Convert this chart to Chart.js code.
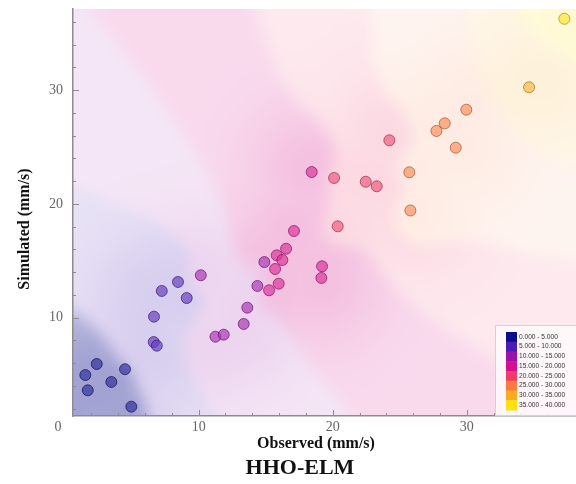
<!DOCTYPE html>
<html><head><meta charset="utf-8">
<script src="https://cdn.jsdelivr.net/npm/chart.js@4/dist/chart.umd.min.js"></script>
<style>html,body{margin:0;padding:0;background:#fff}#wrap{width:576px;height:484px;position:relative}</style>
</head><body><div id="wrap"><canvas id="c" width="576" height="484"></canvas></div>
<script>
const observed = [1.55,2.40,1.73,3.49,4.51,4.98,6.67,6.65,6.88,7.25,8.46,9.11,10.16,11.25,11.87,13.36,13.63,14.38,14.90,15.25,15.70,15.97,15.82,16.24,16.52,17.11,18.43,19.15,19.20,20.10,20.37,22.46,23.28,24.22,25.71,25.79,27.73,28.35,29.17,29.96,34.64,37.27];
const simulated = [4.96,5.93,3.62,4.35,5.47,2.18,10.09,7.86,7.54,12.35,13.14,11.73,13.73,8.33,8.51,9.45,10.88,12.79,14.89,12.41,14.28,12.99,15.48,15.07,16.06,17.62,22.80,13.49,14.52,22.28,18.03,21.95,21.55,25.59,22.78,19.42,26.41,27.08,24.94,28.28,30.25,36.27];
const classLabels = ['0.000 - 5.000','5.000 - 10.000','10.000 - 15.000','15.000 - 20.000','20.000 - 25.000','25.000 - 30.000','30.000 - 35.000','35.000 - 40.000'];
const classColors = ['#0c0c8c','#4a1cb4','#9a12a8','#d6108a','#f03a68','#f87c40','#fbab22','#fde012'];
const majorTicks = [10,20,30];
const minorTicks = [2,4,6,8,12,14,16,18,22,24,26,28,32,34,36];
const xTitle = 'Observed (mm/s)';
const yTitle = 'Simulated (mm/s)';
const chartTitle = 'HHO-ELM';

function hex(c){return [parseInt(c.slice(1,3),16),parseInt(c.slice(3,5),16),parseInt(c.slice(5,7),16)];}
const stops = classColors.map(hex);
const cls = v => Math.max(0, Math.min(stops.length-1, Math.floor(v/5)));
const rgba=(c,a)=>`rgba(${Math.round(c[0])},${Math.round(c[1])},${Math.round(c[2])},${a})`;

const pts = observed.map((x,i)=>({x, y: simulated[i]}));
const fills = observed.map(v=>{const c=stops[cls(v)];return rgba(c.map(a=>a*0.85+255*0.15),0.68);});
const borders = observed.map(v=>{const c=stops[cls(v)];return rgba(c.map(a=>a*0.6),0.65);});

const bgPlugin = {
  id:'bg',
  beforeDraw(chart){
    const {ctx, chartArea:a, scales} = chart;
    const step=3;
    const w=Math.ceil((a.right-a.left)/step), h=Math.ceil((a.bottom-a.top)/step);
    const off=document.createElement('canvas'); off.width=w; off.height=h;
    const octx=off.getContext('2d'); const img=octx.createImageData(w,h);
    const px=pts.map(p=>[scales.x.getPixelForValue(p.x),scales.y.getPixelForValue(p.y),p.x]);
    for(let j=0;j<h;j++){
      for(let i=0;i<w;i++){
        const X=a.left+i*step+step/2, Y=a.top+j*step+step/2;
        let sw=0, sv=0, dmin=1e9;
        for(const p of px){
          const d2=(p[0]-X)**2+(p[1]-Y)**2+25;
          const wt=1/(d2*d2);
          sw+=wt; sv+=wt*p[2];
          if(d2<dmin) dmin=d2;
        }
        const v=sv/sw;
        const ci=cls(v);
        const c=stops[ci];
        const near=Math.exp(-dmin/(60*60));
        const al=[0.32,0.18,0.15,0.22,0.16,0.12,0.14,0.16][ci]*(0.7+0.5*near);
        const k=(j*w+i)*4;
        img.data[k]=255*(1-al)+c[0]*al;
        img.data[k+1]=255*(1-al)+c[1]*al;
        img.data[k+2]=255*(1-al)+c[2]*al;
        img.data[k+3]=255;
      }
    }
    octx.putImageData(img,0,0);
    ctx.save();
    ctx.fillStyle='#fff'; ctx.fillRect(a.left,a.top,a.right-a.left,a.bottom-a.top);
    ctx.beginPath(); ctx.rect(a.left,a.top,a.right-a.left,a.bottom-a.top); ctx.clip();
    ctx.imageSmoothingEnabled=true;
    ctx.filter='blur(7px)';
    ctx.drawImage(off,0,0,w,h,a.left-12,a.top-12,w*step+24,h*step+24);
    ctx.filter='none';
    ctx.restore();
  }
};

const decoPlugin = {
  id:'deco',
  afterDraw(chart){
    const {ctx, chartArea:a, scales} = chart;
    ctx.save();
    ctx.strokeStyle='#8c8c8c'; ctx.lineWidth=1;
    const drawT=(vals,len)=>{
      vals.forEach(v=>{
        const xp=Math.round(scales.x.getPixelForValue(v))+0.5;
        if(xp>a.left&&xp<a.right){ctx.beginPath();ctx.moveTo(xp,a.bottom);ctx.lineTo(xp,a.bottom-len);ctx.stroke();}
        const yp=Math.round(scales.y.getPixelForValue(v))+0.5;
        if(yp>a.top&&yp<a.bottom){ctx.beginPath();ctx.moveTo(a.left,yp);ctx.lineTo(a.left+len,yp);ctx.stroke();}
      });
    };
    drawT(majorTicks,6); drawT(minorTicks,3);
    ctx.fillStyle='#666'; ctx.font='14px "Liberation Serif"'; ctx.textAlign='center'; ctx.textBaseline='middle';
    ctx.fillText('0',58,427);
    ctx.fillStyle='#111'; ctx.font='bold 16px "Liberation Serif"';
    ctx.fillText(xTitle,316,444);
    ctx.save(); ctx.translate(25,229); ctx.rotate(-Math.PI/2); ctx.fillText(yTitle,0,0); ctx.restore();
    ctx.font='bold 22px "Liberation Serif"';
    ctx.fillText(chartTitle,300,468);
    const lx=495, ly=325, lw=84, lh=90;
    ctx.fillStyle='rgba(255,250,252,0.85)'; ctx.fillRect(lx,ly,lw,lh);
    ctx.strokeStyle='#d8d0d6'; ctx.lineWidth=1; ctx.strokeRect(lx+0.5,ly+0.5,lw,lh);
    const sh=9.75;
    ctx.textAlign='left'; ctx.font='6.6px "Liberation Sans"';
    classLabels.forEach((t,i)=>{
      ctx.fillStyle=classColors[i];
      ctx.fillRect(506,332+i*sh,11,sh+0.5);
      ctx.fillStyle='#333';
      ctx.fillText(t,519,332+i*sh+sh/2);
    });
    ctx.restore();
  }
};

new Chart(document.getElementById('c'),{
  type:'scatter',
  data:{datasets:[{data:pts,backgroundColor:fills,borderColor:borders,borderWidth:1,pointRadius:5.5,pointHoverRadius:5.5}]},
  options:{
    responsive:false, animation:false, devicePixelRatio:1,
    layout:{autoPadding:false,padding:{left:0,right:0,top:9,bottom:0}},
    plugins:{legend:{display:false},tooltip:{enabled:false},title:{display:false}},
    scales:{
      x:{type:'linear',min:0.63,max:38.14,
        afterBuildTicks:ax=>{ax.ticks=majorTicks.map(v=>({value:v}));},
        afterFit:s=>{s.height=68;s.paddingLeft=0;s.paddingRight=0;s.paddingTop=0;s.paddingBottom=0;},
        grid:{display:false,drawTicks:false},
        border:{display:true,color:'#8c8c8c',width:1.5},
        ticks:{padding:3,color:'#666',font:{family:'Liberation Serif',size:14},maxRotation:0}},
      y:{type:'linear',min:1.36,max:37.13,
        afterBuildTicks:ax=>{ax.ticks=majorTicks.map(v=>({value:v}));},
        afterFit:s=>{s.width=73;s.paddingLeft=0;s.paddingRight=0;s.paddingTop=0;s.paddingBottom=0;},
        grid:{display:false,drawTicks:false},
        border:{display:true,color:'#8c8c8c',width:1.5},
        ticks:{padding:10,color:'#666',font:{family:'Liberation Serif',size:14}}}
    }
  },
  plugins:[bgPlugin,decoPlugin]
});
</script></body></html>
